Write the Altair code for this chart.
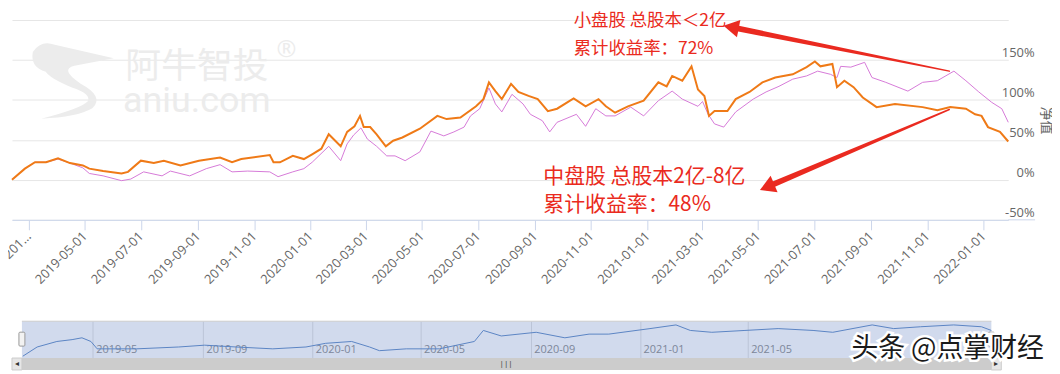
import altair as alt
import pandas as pd

# ---------------- data ----------------
# orange line: 中盘股 (cumulative return, %)
mid_dates = ["2019-02-11","2019-02-25","2019-03-08","2019-03-20","2019-04-02","2019-04-15","2019-04-29","2019-05-06","2019-05-21","2019-06-10",
             "2019-06-17","2019-07-01","2019-07-15","2019-07-26","2019-08-13","2019-09-02","2019-09-25","2019-10-08","2019-10-18","2019-11-18",
             "2019-11-22","2019-11-29","2019-12-13","2019-12-25","2020-01-03","2020-01-13","2020-01-21","2020-02-03","2020-02-10","2020-02-18",
             "2020-02-24","2020-02-28","2020-03-06","2020-03-13","2020-03-23","2020-03-31","2020-04-10","2020-04-29","2020-05-18","2020-05-28",
             "2020-06-12","2020-06-29","2020-07-07","2020-07-13","2020-07-20","2020-07-27","2020-08-06","2020-08-14","2020-08-25","2020-09-04",
             "2020-09-15","2020-09-25","2020-10-13","2020-10-26","2020-11-09","2020-11-17","2020-11-27","2020-12-11","2020-12-28","2021-01-13",
             "2021-01-22","2021-01-28","2021-02-08","2021-02-18","2021-02-25","2021-03-04","2021-03-09","2021-03-15","2021-03-29","2021-04-07",
             "2021-04-22","2021-05-06","2021-05-20","2021-06-08","2021-06-23","2021-07-02","2021-07-08","2021-07-21","2021-07-26","2021-08-03",
             "2021-08-13","2021-08-23","2021-09-07","2021-09-27","2021-10-27","2021-11-12","2021-11-26","2021-12-13","2021-12-23","2021-12-30",
             "2022-01-06","2022-01-19","2022-01-28"]
mid_vals = [0,14,22,22,27,21,18,14,11,8,
            10,24,21,24,18,24,28,22,26,31,
            22,22,30,26,32,39,57,42,60,67,
            80,66,66,57,42,49,53,64,80,76,
            78,92,101,122,111,101,120,110,105,101,
            86,89,102,92,101,92,84,92,99,122,
            117,130,124,142,113,105,80,86,86,101,
            110,122,128,132,141,148,142,145,116,124,
            116,103,91,95,91,87,91,89,82,80,
            66,60,48]

# violet line: 小盘股 (cumulative return, %)
small_dates = ["2019-02-11","2019-02-25","2019-03-08","2019-03-20","2019-04-02","2019-04-15","2019-04-29","2019-05-06","2019-05-21","2019-06-10",
               "2019-06-20","2019-07-04","2019-07-24","2019-08-02","2019-08-23","2019-09-10","2019-09-25","2019-10-08","2019-10-25","2019-11-18",
               "2019-11-27","2019-12-13","2019-12-25","2020-01-03","2020-01-21","2020-02-03","2020-02-10","2020-02-17","2020-02-25","2020-03-03",
               "2020-03-13","2020-03-24","2020-04-02","2020-04-13","2020-04-29","2020-05-11","2020-05-25","2020-06-05","2020-06-16","2020-06-23",
               "2020-07-03","2020-07-13","2020-07-20","2020-07-27","2020-08-07","2020-08-19","2020-08-27","2020-09-09","2020-09-17","2020-09-25",
               "2020-10-16","2020-10-26","2020-11-06","2020-11-17","2020-11-27","2020-12-14","2020-12-28","2021-01-13","2021-01-28","2021-02-08",
               "2021-02-25","2021-03-02","2021-03-08","2021-03-15","2021-03-25","2021-04-07","2021-04-26","2021-05-10","2021-05-24","2021-06-08",
               "2021-06-23","2021-07-05","2021-07-19","2021-07-26","2021-07-30","2021-08-10","2021-08-25","2021-09-02","2021-09-17","2021-10-11",
               "2021-10-27","2021-11-12","2021-11-30","2021-12-13","2021-12-27","2022-01-10","2022-01-21","2022-01-28"]
small_vals = [0,14,22,22,26,21,15,8,5,-1,
              1,10,5,11,5,14,19,10,11,10,
              4,10,14,22,42,24,45,56,65,51,
              42,30,30,24,35,61,55,60,66,80,
              89,115,95,85,107,95,82,74,60,72,
              82,67,89,80,80,91,80,99,111,101,
              92,98,82,70,66,85,101,110,117,126,
              130,136,132,128,142,141,147,128,122,111,
              122,124,136,124,110,97,89,72]

# navigator (overview) series, relative level
nav_dates = ["2019-02-12","2019-02-28","2019-03-22","2019-04-08","2019-04-19","2019-04-29","2019-05-06","2019-06-19","2019-08-05","2019-09-03",
             "2019-10-08","2019-11-18","2019-12-25","2020-01-16","2020-02-14","2020-03-05","2020-03-16","2020-04-15","2020-05-22","2020-06-30",
             "2020-07-10","2020-07-30","2020-09-07","2020-10-09","2020-11-05","2020-11-27","2021-01-12","2021-02-10","2021-02-26","2021-03-22",
             "2021-04-28","2021-06-04","2021-07-13","2021-08-04","2021-09-17","2021-10-11","2021-11-10","2021-12-17","2022-01-17","2022-01-28"]
nav_vals = [10,35,50,55,60,50,30,30,35,40,
            35,30,35,45,50,35,25,30,30,50,
            80,65,75,60,70,70,85,95,80,75,
            80,85,80,75,95,85,90,95,90,80]

x_domain = ["2019-02-11", "2022-01-28"]
x_tick_dates = ["2019-03-01","2019-05-01","2019-07-01","2019-09-01","2019-11-01","2020-01-01","2020-03-01","2020-05-01","2020-07-01",
                "2020-09-01","2020-11-01","2021-01-01","2021-03-01","2021-05-01","2021-07-01","2021-09-01","2021-11-01","2022-01-01"]
nav_tick_dates = ["2019-05-01","2019-09-01","2020-01-01","2020-05-01","2020-09-01","2021-01-01","2021-05-01"]
y_ticks = [-50, 0, 50, 100, 150, 200]

ann_texts = ["小盘股 总股本＜2亿", "累计收益率：72%", "中盘股 总股本2亿-8亿", "累计收益率：48%"]
ann_dates = ["2020-10-13", "2020-10-13", "2020-09-10", "2020-09-10"]
ann_vals = [199, 164, 3, -31]

arrow_ids = ["a1", "a1", "a2", "a2"]
arrow_dates = ["2021-11-25", "2021-04-02", "2021-11-25", "2021-05-11"]
arrow_vals = [136, 191, 88, -9]
arrow_end = [0, 1, 0, 1]

wm_texts = ["阿牛智投", "aniu.com", "®"]
credit_text = ["头条 @点掌财经"]

assert len(mid_dates) == len(mid_vals)
assert len(small_dates) == len(small_vals)
assert len(nav_dates) == len(nav_vals)

# ---------------- styling ----------------
FONT = "Open Sans"
CJK = "Noto Sans CJK SC"
ORANGE = "#ef7a17"
VIOLET = "#d67ad8"
RED = "#ea2a20"
GRAY = "#666666"
WM = "#ececec"

MAIN_W, MAIN_H = 1002, 201
NAV_W, NAV_H = 995, 37

LOGO = ("M-0.89,-0.64 Q-0.7,-0.92 -0.4,-0.8 L0.92,-0.5 L0.04,-0.33 Q-0.3,-0.25 0.18,0.07 "
        "Q0.72,0.36 0.44,0.62 Q0.1,0.82 -0.7,0.85 Q0.2,0.62 0.34,0.46 Q0.42,0.3 0,0.16 "
        "Q-0.5,-0.05 -0.6,-0.2 Q-0.95,-0.3 -0.89,-0.64 Z")


def dt(s):
    y, m, d = (int(v) for v in s.split("-"))
    return alt.DateTime(year=y, month=m, date=d, utc=True)


mid_df = pd.DataFrame({"date": mid_dates, "val": mid_vals})
small_df = pd.DataFrame({"date": small_dates, "val": small_vals})
nav_df = pd.DataFrame({"date": nav_dates, "val": nav_vals})
ann_df = pd.DataFrame({"date": ann_dates, "val": ann_vals, "text": ann_texts})
arrow_df = pd.DataFrame({"arrow": arrow_ids, "date": arrow_dates, "val": arrow_vals, "end": arrow_end})

x_scale = alt.Scale(type="utc", domain=[dt(x_domain[0]), dt(x_domain[1])], nice=False)
y_scale = alt.Scale(domain=[-50, 200], nice=False, zero=False)

x_axis = alt.Axis(
    values=[dt(s) for s in x_tick_dates],
    labelExpr="(utcyear(datum.value) == 2019 && utcmonth(datum.value) == 2) ? '201…' : utcFormat(datum.value, '%Y-%m-%d')",
    labelAngle=-45, labelAlign="right", labelBaseline="middle", labelPadding=4,
    labelFont=FONT, labelFontSize=13, labelColor=GRAY, labelOverlap=False, labelFlush=False, labelBound=False,
    tickSize=10, tickColor="#ccd6eb", domainColor="#ccd6eb", grid=False, title=None,
)
y_axis = alt.Axis(
    orient="right", values=y_ticks,
    labelExpr="datum.value == 200 ? '' : datum.value + '%'",
    grid=True, gridColor="#e6e6e6", domain=False, ticks=False,
    labelAlign="right", labelBaseline="bottom", labelPadding=26,
    labelFont=FONT, labelFontSize=13, labelColor=GRAY,
    title="净值", titleFont=CJK, titleFontSize=14, titleColor=GRAY, titleAngle=90,
    titlePadding=4, titleFontWeight="normal",
)

X = alt.X("date:T", scale=x_scale, axis=x_axis, title=None)
Y = alt.Y("val:Q", scale=y_scale, axis=y_axis, title="净值")

one = pd.DataFrame({"k": [0]})

# watermark
logo = alt.Chart(one).mark_point(shape=LOGO, filled=True, size=8100, color=WM, opacity=1).encode(
    x=alt.value(61), y=alt.value(61)
)
wm1 = alt.Chart(pd.DataFrame({"t": [wm_texts[0]]})).mark_text(
    font=CJK, fontSize=36, color=WM, align="center", baseline="middle"
).encode(text="t:N", x=alt.value(186), y=alt.value(47))
wm2 = alt.Chart(pd.DataFrame({"t": [wm_texts[1]]})).mark_text(
    font="Roboto", fontSize=36, color=WM, align="center", baseline="middle"
).encode(text="t:N", x=alt.value(186), y=alt.value(82))
wm3 = alt.Chart(pd.DataFrame({"t": [wm_texts[2]]})).mark_text(
    font=FONT, fontSize=24, color=WM, align="center", baseline="middle"
).encode(text="t:N", x=alt.value(276), y=alt.value(30))

axis_ext = alt.Chart(one).mark_rule(color="#ccd6eb", strokeWidth=1).encode(
    x=alt.value(MAIN_W), x2=alt.value(MAIN_W + 27), y=alt.value(MAIN_H)
)

small_line = alt.Chart(small_df).mark_line(color=VIOLET, strokeWidth=1).encode(x=X, y=Y)
mid_line = alt.Chart(mid_df).mark_line(color=ORANGE, strokeWidth=2).encode(x=X, y=Y)

ann_top = alt.Chart(ann_df.iloc[:2]).mark_text(
    font=CJK, fontSize=17.5, color=RED, align="left", baseline="middle"
).encode(x=X, y=Y, text="text:N")
ann_bot = alt.Chart(ann_df.iloc[2:]).mark_text(
    font=CJK, fontSize=21, color=RED, align="left", baseline="middle"
).encode(x=X, y=Y, text="text:N")

trail = alt.Chart(arrow_df).mark_trail(color=RED).encode(
    x=X, y=Y, detail="arrow:N", order="end:Q",
    size=alt.Size("end:Q", scale=alt.Scale(domain=[0, 1], range=[1.5, 6]), legend=None),
)
head1 = alt.Chart(arrow_df).transform_filter("datum.arrow == 'a1' && datum.end == 1").mark_point(
    shape="triangle-up", filled=True, size=320, color=RED, opacity=1, angle=281
).encode(x=X, y=Y)
head2 = alt.Chart(arrow_df).transform_filter("datum.arrow == 'a2' && datum.end == 1").mark_point(
    shape="triangle-up", filled=True, size=320, color=RED, opacity=1, angle=247
).encode(x=X, y=Y)

main = alt.layer(logo, wm1, wm2, wm3, axis_ext, small_line, mid_line, ann_top, ann_bot, trail, head1, head2).properties(
    width=MAIN_W, height=MAIN_H
)

# ---------------- navigator ----------------
nav_x = alt.X(
    "date:T",
    scale=alt.Scale(type="utc", domain=[dt(x_domain[0]), dt(x_domain[1])], nice=False, range=[10, 985]),
    axis=alt.Axis(
        values=[dt(s) for s in nav_tick_dates], labelExpr="utcFormat(datum.value, '%Y-%m')",
        labelAlign="left", labelBaseline="bottom", labelPadding=-4, labelOffset=3,
        ticks=False, domain=False, grid=True, gridColor="#e0e0e0",
        labelColor="#888888", labelFontSize=11, labelFont=FONT, labelFlush=False, labelOverlap=False,
        title=None,
    ),
    title=None,
)
nav_y = alt.Y("val:Q", scale=alt.Scale(domain=[5, 105], nice=False, zero=False), axis=None)

mask = alt.Chart(one).mark_rect(fill="#6685c2", fillOpacity=0.3).encode(
    x=alt.value(10), x2=alt.value(985), y=alt.value(0), y2=alt.value(NAV_H)
)
top_line = alt.Chart(one).mark_rule(color="#cccccc", strokeWidth=1).encode(
    x=alt.value(10), x2=alt.value(985), y=alt.value(0)
)
nav_line = alt.Chart(nav_df).mark_line(color="#5b84c4", strokeWidth=1).encode(x=nav_x, y=nav_y)
handle_l = alt.Chart(one).mark_rect(fill="#f2f2f2", stroke="#999999", strokeWidth=1, cornerRadius=1).encode(
    x=alt.value(7), x2=alt.value(13), y=alt.value(11), y2=alt.value(25)
)
handle_r = alt.Chart(one).mark_rect(fill="#f2f2f2", stroke="#999999", strokeWidth=1, cornerRadius=1).encode(
    x=alt.value(982), x2=alt.value(988), y=alt.value(11), y2=alt.value(25)
)
sb_track = alt.Chart(one).mark_rect(fill="#f2f2f2").encode(
    x=alt.value(0), x2=alt.value(NAV_W), y=alt.value(NAV_H), y2=alt.value(NAV_H + 12)
)
sb_bar = alt.Chart(one).mark_rect(fill="#cccccc").encode(
    x=alt.value(10), x2=alt.value(985), y=alt.value(NAV_H), y2=alt.value(NAV_H + 12)
)
sb_btn_l = alt.Chart(one).mark_rect(fill="#e6e6e6", stroke="#cccccc").encode(
    x=alt.value(0), x2=alt.value(10), y=alt.value(NAV_H), y2=alt.value(NAV_H + 12)
)
sb_btn_r = alt.Chart(one).mark_rect(fill="#e6e6e6", stroke="#cccccc").encode(
    x=alt.value(985), x2=alt.value(NAV_W), y=alt.value(NAV_H), y2=alt.value(NAV_H + 12)
)
sb_arr_l = alt.Chart(pd.DataFrame({"t": ["◂"]})).mark_text(fontSize=8, color="#333333").encode(
    text="t:N", x=alt.value(5), y=alt.value(NAV_H + 6)
)
sb_arr_r = alt.Chart(pd.DataFrame({"t": ["▸"]})).mark_text(fontSize=8, color="#333333").encode(
    text="t:N", x=alt.value(990), y=alt.value(NAV_H + 6)
)
sb_rifle = alt.Chart(pd.DataFrame({"t": ["|||"]})).mark_text(fontSize=8, color="#333333", font=FONT).encode(
    text="t:N", x=alt.value(497), y=alt.value(NAV_H + 6)
)
credit_bg = alt.Chart(pd.DataFrame({"t": credit_text})).mark_text(
    font=CJK, fontSize=27, color="white", stroke="white", strokeWidth=5, align="center", baseline="middle"
).encode(text="t:N", x=alt.value(941), y=alt.value(28))
credit = alt.Chart(pd.DataFrame({"t": credit_text})).mark_text(
    font=CJK, fontSize=27, color="#1a1a1a", align="center", baseline="middle"
).encode(text="t:N", x=alt.value(941), y=alt.value(28))

nav = alt.layer(
    mask, top_line, nav_line, handle_l, handle_r, sb_track, sb_bar, sb_btn_l, sb_btn_r,
    sb_arr_l, sb_arr_r, sb_rifle, credit_bg, credit
).properties(width=NAV_W, height=NAV_H)

chart = alt.vconcat(main, nav, spacing=102, bounds="flush").resolve_scale(
    x="independent", y="independent"
).configure_view(stroke=None).properties(
    padding={"left": -7, "top": 2, "right": 0, "bottom": 0}
)

chart.save("out.html", embed_options={"renderer": "svg", "actions": False})
